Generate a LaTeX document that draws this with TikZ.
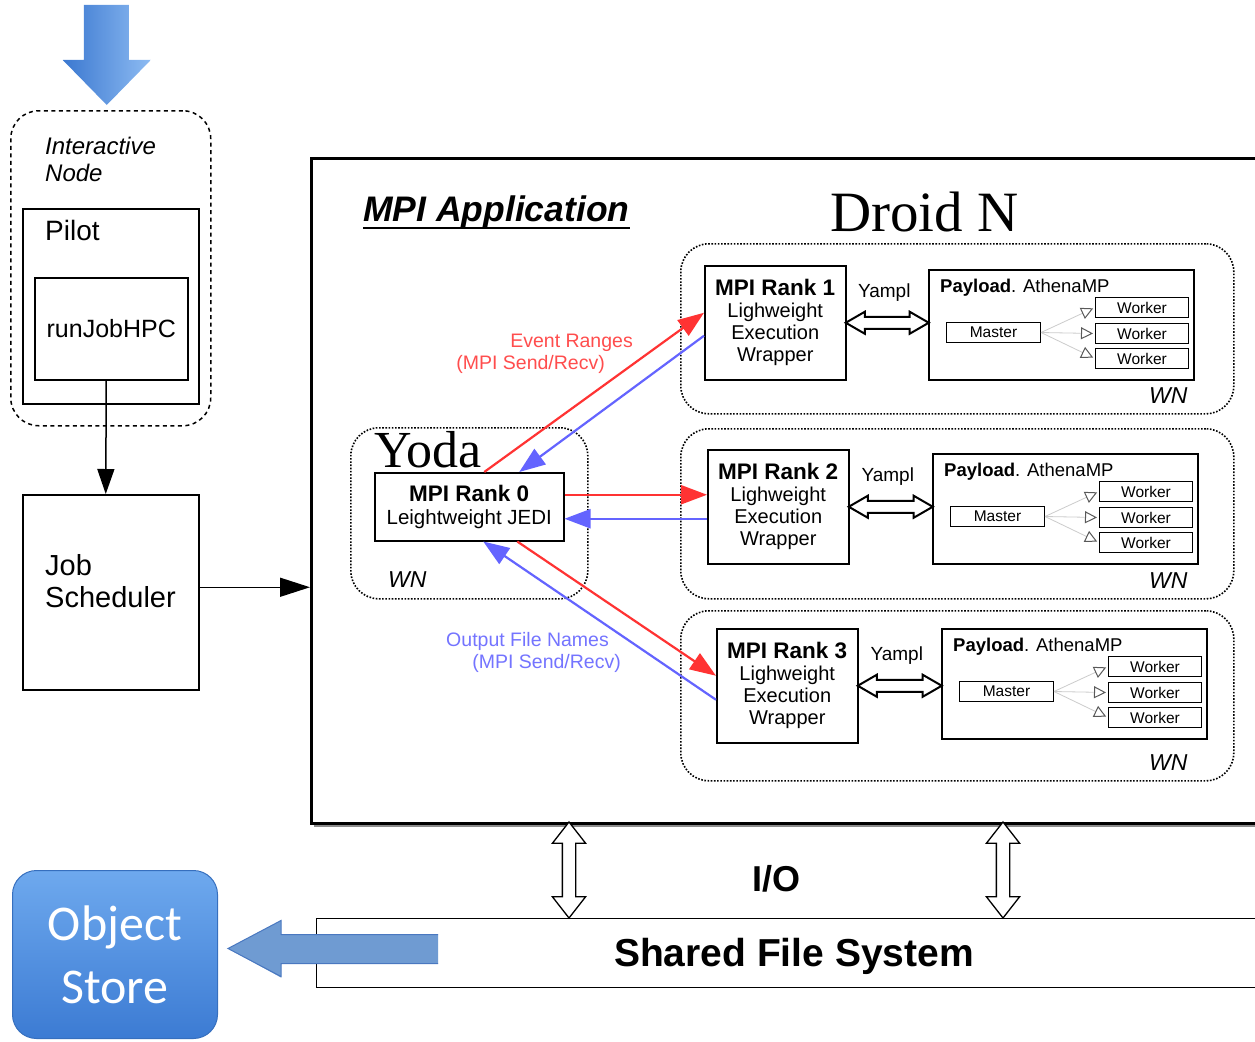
\documentclass[tikz,border=0pt]{standalone}
\usepackage{fontspec}
\setsansfont{Liberation Sans}
\newfontfamily\carlito{Carlito}
\newfontfamily\tserif{Liberation Serif}
\usetikzlibrary{arrows.meta,calc,shapes.arrows}
\definecolor{redA}{HTML}{FF3333}
\definecolor{blueA}{HTML}{6464FF}
\definecolor{redT}{HTML}{FF4D4D}
\definecolor{blueT}{HTML}{7474FF}
\definecolor{arrL}{HTML}{3B78D0}
\definecolor{arrR}{HTML}{8DBBF2}
\definecolor{osT}{HTML}{6EA9EE}
\definecolor{osB}{HTML}{3C7BD3}
\definecolor{osArr}{HTML}{6F9BD2}
\definecolor{osArrD}{HTML}{4A78C0}
\newcommand\fsz[2]{\sffamily\fontsize{#1}{#2}\selectfont}
\tikzset{
 box/.style={draw, line width=1.5pt, inner sep=0pt, fill=white},
 smallbox/.style={draw, line width=1pt, inner sep=0pt, minimum height=20pt, font=\fsz{15.5}{18}},
 dotbox/.style={draw, line width=1.6pt, dash pattern=on 1.6pt off 1.6pt, rounded corners=28pt, inner sep=0pt},
 dashbox/.style={draw, line width=1.5pt, dash pattern=on 4pt off 3.5pt, rounded corners=28pt, inner sep=0pt},
 redarr/.style={draw=redA, line width=2.2pt, -{Triangle[length=26pt,width=19pt]}},
 bluearr/.style={draw=blueA, line width=2.2pt, -{Triangle[length=26pt,width=19pt]}},
 wline/.style={draw=black!20, line width=0.8pt, -{Triangle[open, length=12pt, width=12pt, color=black!65, line width=1pt]}, shorten >=2pt},
 yamplarr/.style={double arrow, draw, line width=2pt, fill=white, inner sep=5pt, double arrow head extend=5pt, double arrow tip angle=60},
 ioarr/.style={double arrow, draw, line width=1.3pt, fill=white, inner sep=6pt, double arrow head extend=10pt, double arrow tip angle=76},
 txt/.style={inner sep=0pt},
}
\newcommand\droidgrp[7]{%
 \node[dotbox, minimum width=553pt, minimum height={#7-#6}, anchor=north west] (dc#1) at (680,#6) {};
 \node[box, minimum width=141pt, minimum height=114pt, anchor=north west, align=center, font=\fsz{20}{22}] (r#1) at (#2,#3) {{\bfseries\fontsize{22.5}{22}\selectfont MPI Rank #1}\\Lighweight\\Execution\\Wrapper};
 \node[box, minimum width=265pt, minimum height=110pt, anchor=north west] (p#1) at (#4,#5) {};
 \node[txt, anchor=base west, font=\fsz{18.5}{22}] (pl#1) at ($(p#1.north west)+(12,23)$) {\textbf{Payload}. AthenaMP};
 \node[smallbox, minimum width=94pt, anchor=north west] (m#1) at ($(p#1.north west)+(18,53)$) {Master};
 \foreach \k/\dy in {a/28,b/54,c/79}{%
   \node[smallbox, minimum width=93pt, anchor=north west] (w#1\k) at ($(p#1.north west)+(167,\dy)$) {Worker};
   \draw[wline] (m#1.east) -- (w#1\k.west);
 }
 \node[yamplarr, minimum height={#4-#2-141}] (ya#1) at ($(r#1.east)!0.5!(p#1.west |- r#1.east)$) {};
 \node[txt, font=\fsz{19}{22}] (yl#1) at ($(r#1.north east)!0.5!(p#1.north west |- r#1.north east)+(-3,28)$) {Yampl};
 \node[txt, anchor=base west, font=\itshape\fsz{23}{26}] (wn#1) at (1149,{#7-10}) {WN};
}
\begin{document}
\begin{tikzpicture}[x=1pt,y=-1pt,font=\sffamily]
\useasboundingbox (0,0) rectangle (1255,1041);

% Interactive node
\node[dashbox, minimum width=200pt, minimum height=315pt, anchor=north west] (inter) at (10,110) {};
\node[txt, anchor=base west, font=\itshape\fsz{24}{27}] (intl1) at (45,154) {Interactive};
\node[txt, anchor=base west, font=\itshape\fsz{24}{27}] (intl2) at (45,181) {Node};

% top arrow
\coordinate (toptip) at ($(inter.north)+(-4,-5)$);
\shade[left color=arrL, right color=arrR] (toptip) -- ++(-44,-45) -- ++(21,0) -- ++(0,-55) -- ++(45,0) -- ++(0,55) -- ++(22,0) -- cycle;

% Pilot
\node[box, minimum width=176pt, minimum height=195pt, anchor=north west] (pilot) at (22,208) {};
\node[txt, anchor=base west, font=\fsz{28}{32}] (pilotl) at (45,240) {Pilot};
\node[box, minimum width=153pt, minimum height=102pt, anchor=north west, font=\fsz{25}{28}] (rj) at (34,277) {runJobHPC};

% Job scheduler
\node[box, minimum width=176pt, minimum height=195pt, anchor=north west] (js) at (22,494) {};
\node[txt, anchor=west, align=left, font=\fsz{29}{32}] (jsl) at (45,581) {Job\\Scheduler};
\draw[line width=1.5pt, -{Triangle[length=25pt,width=17pt]}] ($(rj.south)+(-5,0)$) -- ($(js.north)+(-5,0)$);

% MPI application
\fill[black!45] (314,161) rectangle (1275,827);
\node[draw, line width=3pt, fill=white, minimum width=960pt, minimum height=665pt, anchor=north west, inner sep=0pt] (mpi) at (310,157) {};
\draw[line width=1.5pt, -{Triangle[length=30pt,width=19pt]}] ($(js.east)+(0,-5)$) -- ($(js.east -| mpi.west)+(0,-5)$);

\node[txt, anchor=base west, font=\bfseries\itshape\fsz{35.5}{40}] (mpil) at (363,221) {MPI Application};
\draw[line width=2pt] ($(mpil.base west)+(0,7)$) -- ($(mpil.base east)+(0,7)$);
\node[txt, anchor=base west, font=\fsz{57}{62}\tserif] (droidl) at (830,231) {Droid N};

% Yoda
\node[dotbox, minimum width=237pt, minimum height=171pt, anchor=north west] (yc) at (350,427) {};
\node[box, minimum width=189pt, minimum height=68pt, anchor=north west, align=center, font=\fsz{20.5}{23}] (r0) at (374,472) {{\bfseries\fontsize{22.5}{23}\selectfont MPI Rank 0}\\Leightweight JEDI};
\node[txt, anchor=base west, font=\fsz{52}{58}\tserif] (yodal) at (374,467) {Yoda};
\node[txt, anchor=base west, font=\itshape\fsz{23}{26}] (wn0) at (388,587) {WN};

% Droids
\droidgrp{1}{704}{265}{928}{269}{243}{413}
\droidgrp{2}{707}{449}{932}{453}{428}{598}
\droidgrp{3}{716}{628}{941}{628}{610}{780}

% MPI messages
\draw[redarr] ($(r0.north)+(15,0)$) -- ($(r1.west)+(0,-10)$);
\draw[bluearr] ($(r1.west)+(0,13)$) -- ($(r0.north)+(50,0)$);
\draw[redarr] ($(r0.east)+(0,-12)$) -- ($(r2.west)+(0,-12)$);
\draw[bluearr] ($(r2.west)+(0,12)$) -- ($(r0.east)+(0,12)$);
\draw[redarr] ($(r0.south)+(48,0)$) -- ($(r3.west)+(0,-10)$);
\draw[bluearr] ($(r3.west)+(0,14)$) -- ($(r0.south)+(14,0)$);

\node[txt, anchor=east, text=redT, font=\fsz{19.5}{22}] (er1) at (633,343) {Event Ranges};
\node[txt, anchor=east, text=redT, font=\fsz{19.5}{22}] (er2) at (605,364) {(MPI Send/Recv)};
\node[txt, anchor=east, text=blueT, font=\fsz{19.5}{22}] (of1) at (609,641) {Output File Names};
\node[txt, anchor=east, text=blueT, font=\fsz{19.5}{22}] (of2) at (621,663) {(MPI Send/Recv)};

% Shared file system and I/O
\node[draw, line width=1.3pt, fill=white, minimum width=950pt, minimum height=69pt, anchor=north west, inner sep=0pt] (sfs) at (316,918) {};
\node[txt, font=\bfseries\fsz{39}{44}] (sfsl) at (794,956) {Shared File System};
\node[ioarr, minimum height=96pt, rotate=90] (io1) at (569,870) {};
\node[ioarr, minimum height=96pt, rotate=90] (io2) at (1003,870) {};
\node[txt, font=\bfseries\fsz{36}{40}] (iol) at (776,879) {I/O};

% Object store
\node[rounded corners=24pt, top color=osT, bottom color=osB, draw=osB!90!black, line width=1pt, minimum width=205pt, minimum height=168pt, anchor=north west, inner sep=0pt] (os) at (12,870) {};
\node[txt, text=white, align=center, font=\fsz{50}{63}\carlito] (osl) at (os.center) {Object\\Store};
\coordinate (ostip) at ($(os.east)+(10,-6)$);
\fill[osArr] (ostip) -- ++(53,-28) -- ++(0,14) -- ++(157,0) -- ++(0,29) -- ++(-157,0) -- ++(0,14) -- cycle;
\draw[osArrD, line width=1pt] ($(ostip)+(210,-14)$) -- ++(-157,0) -- ++(0,-14) -- (ostip) -- ++(53,28) -- ++(0,-13) -- ++(157,0);
\end{tikzpicture}
\end{document}
